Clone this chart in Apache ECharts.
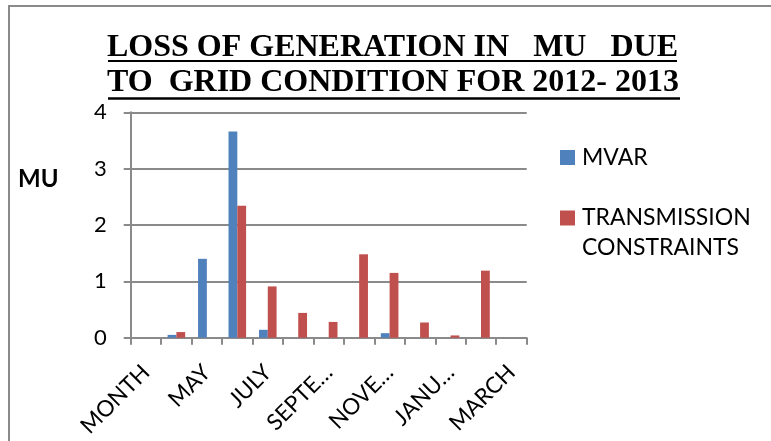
<!DOCTYPE html>
<html><head><meta charset="utf-8">
<script src="https://cdn.jsdelivr.net/npm/echarts@6/dist/echarts.min.js"></script>
<style>html,body{margin:0;padding:0;background:#fff}#c{width:771px;height:441px}</style>
</head><body><div id="c"></div>
<script>
const categories = ['MONTH','APRIL','MAY','JUNE','JULY','AUGUST','SEPTEMBER','OCTOBER','NOVEMBER','DECEMBER','JANUARY','FEBRUARY','MARCH'];
const tickLabels = ['MONTH','APRIL','MAY','JUNE','JULY','AUGUST','SEPTE…','OCTO…','NOVE…','DECE…','JANU…','FEBR…','MARCH'];
const mvar = [null, 0.05, 1.40, 3.66, 0.14, null, null, null, 0.08, null, null, null, null];
const transmission = [null, 0.10, null, 2.34, 0.91, 0.44, 0.28, 1.48, 1.15, 0.27, 0.04, 1.19, null];
const seriesNames = ['MVAR', 'TRANSMISSION CONSTRAINTS'];
const titleLines = ['LOSS OF GENERATION IN   MU   DUE', 'TO  GRID CONDITION FOR 2012- 2013'];
const yAxisName = 'MU';

const chart = echarts.init(document.getElementById('c'), null, {renderer: 'canvas'});
const gray = '#8a8a8a';
const labelFont = 'Lato';
chart.setOption({
  animation: false,
  backgroundColor: '#fff',
  title: {
    text: titleLines.join('\n'),
    left: 107, top: 30, padding: 0,
    textStyle: {fontFamily: 'Liberation Serif', fontWeight: 'bold', fontSize: 32, lineHeight: 35, color: '#000'}
  },
  legend: [
    {
      data: [seriesNames[0]], orient: 'vertical', left: 560, top: 146, padding: 0,
      icon: 'rect', itemWidth: 15, itemHeight: 15,
      textStyle: {fontFamily: labelFont, fontSize: 23, color: '#000', padding: [0,0,0,2]}
    },
    {
      data: [seriesNames[1]], orient: 'vertical', left: 560, top: 173, padding: 0,
      icon: 'rect', itemWidth: 15, itemHeight: 15,
      formatter: n => '\n' + n.replace(' ', '\n'),
      textStyle: {fontFamily: labelFont, fontSize: 23, lineHeight: 30, color: '#000', padding: [0,0,0,2]}
    }
  ],
  grid: {left: 130.7, right: 244.3, top: 112.3, bottom: 103.3, containLabel: false},
  xAxis: {
    type: 'category', data: categories,
    axisLine: {lineStyle: {color: gray, width: 2}},
    axisTick: {show: true, alignWithLabel: false, length: 7, interval: 0, lineStyle: {color: gray, width: 2}},
    axisLabel: {interval: 1, rotate: 45, margin: 31, fontFamily: labelFont, fontSize: 22.5, color: '#000',
      formatter: (v, i) => tickLabels[i]}
  },
  yAxis: {
    type: 'value', min: 0, max: 4, interval: 1,
    axisLine: {show: true, lineStyle: {color: gray, width: 2}},
    axisTick: {show: true, length: 7, lineStyle: {color: gray, width: 2}},
    splitLine: {lineStyle: {color: gray, width: 2}},
    axisLabel: {margin: 24, fontFamily: labelFont, fontSize: 22, color: '#000'}
  },
  series: [
    {name: seriesNames[0], type: 'bar', data: mvar, barWidth: 8.8, barGap: '0%', itemStyle: {color: '#4F81BD'}},
    {name: seriesNames[1], type: 'bar', data: transmission, barWidth: 8.8, barGap: '0%', itemStyle: {color: '#C0504D'}}
  ],
  graphic: [
    {type: 'rect', silent: true, shape: {x: 9, y: 6, width: 900, height: 600}, style: {fill: 'none', stroke: gray, lineWidth: 2}},
    {type: 'line', silent: true, shape: {x1: 108, y1: 61, x2: 677, y2: 61}, style: {stroke: '#000', lineWidth: 2}},
    {type: 'line', silent: true, shape: {x1: 108, y1: 98.5, x2: 680, y2: 98.5}, style: {stroke: '#000', lineWidth: 2.5}},
    {type: 'text', silent: true, left: 18, top: 167, style: {text: yAxisName, fontFamily: labelFont, fontWeight: 'bold', fontSize: 24, fill: '#000'}}
  ]
});
</script></body></html>
